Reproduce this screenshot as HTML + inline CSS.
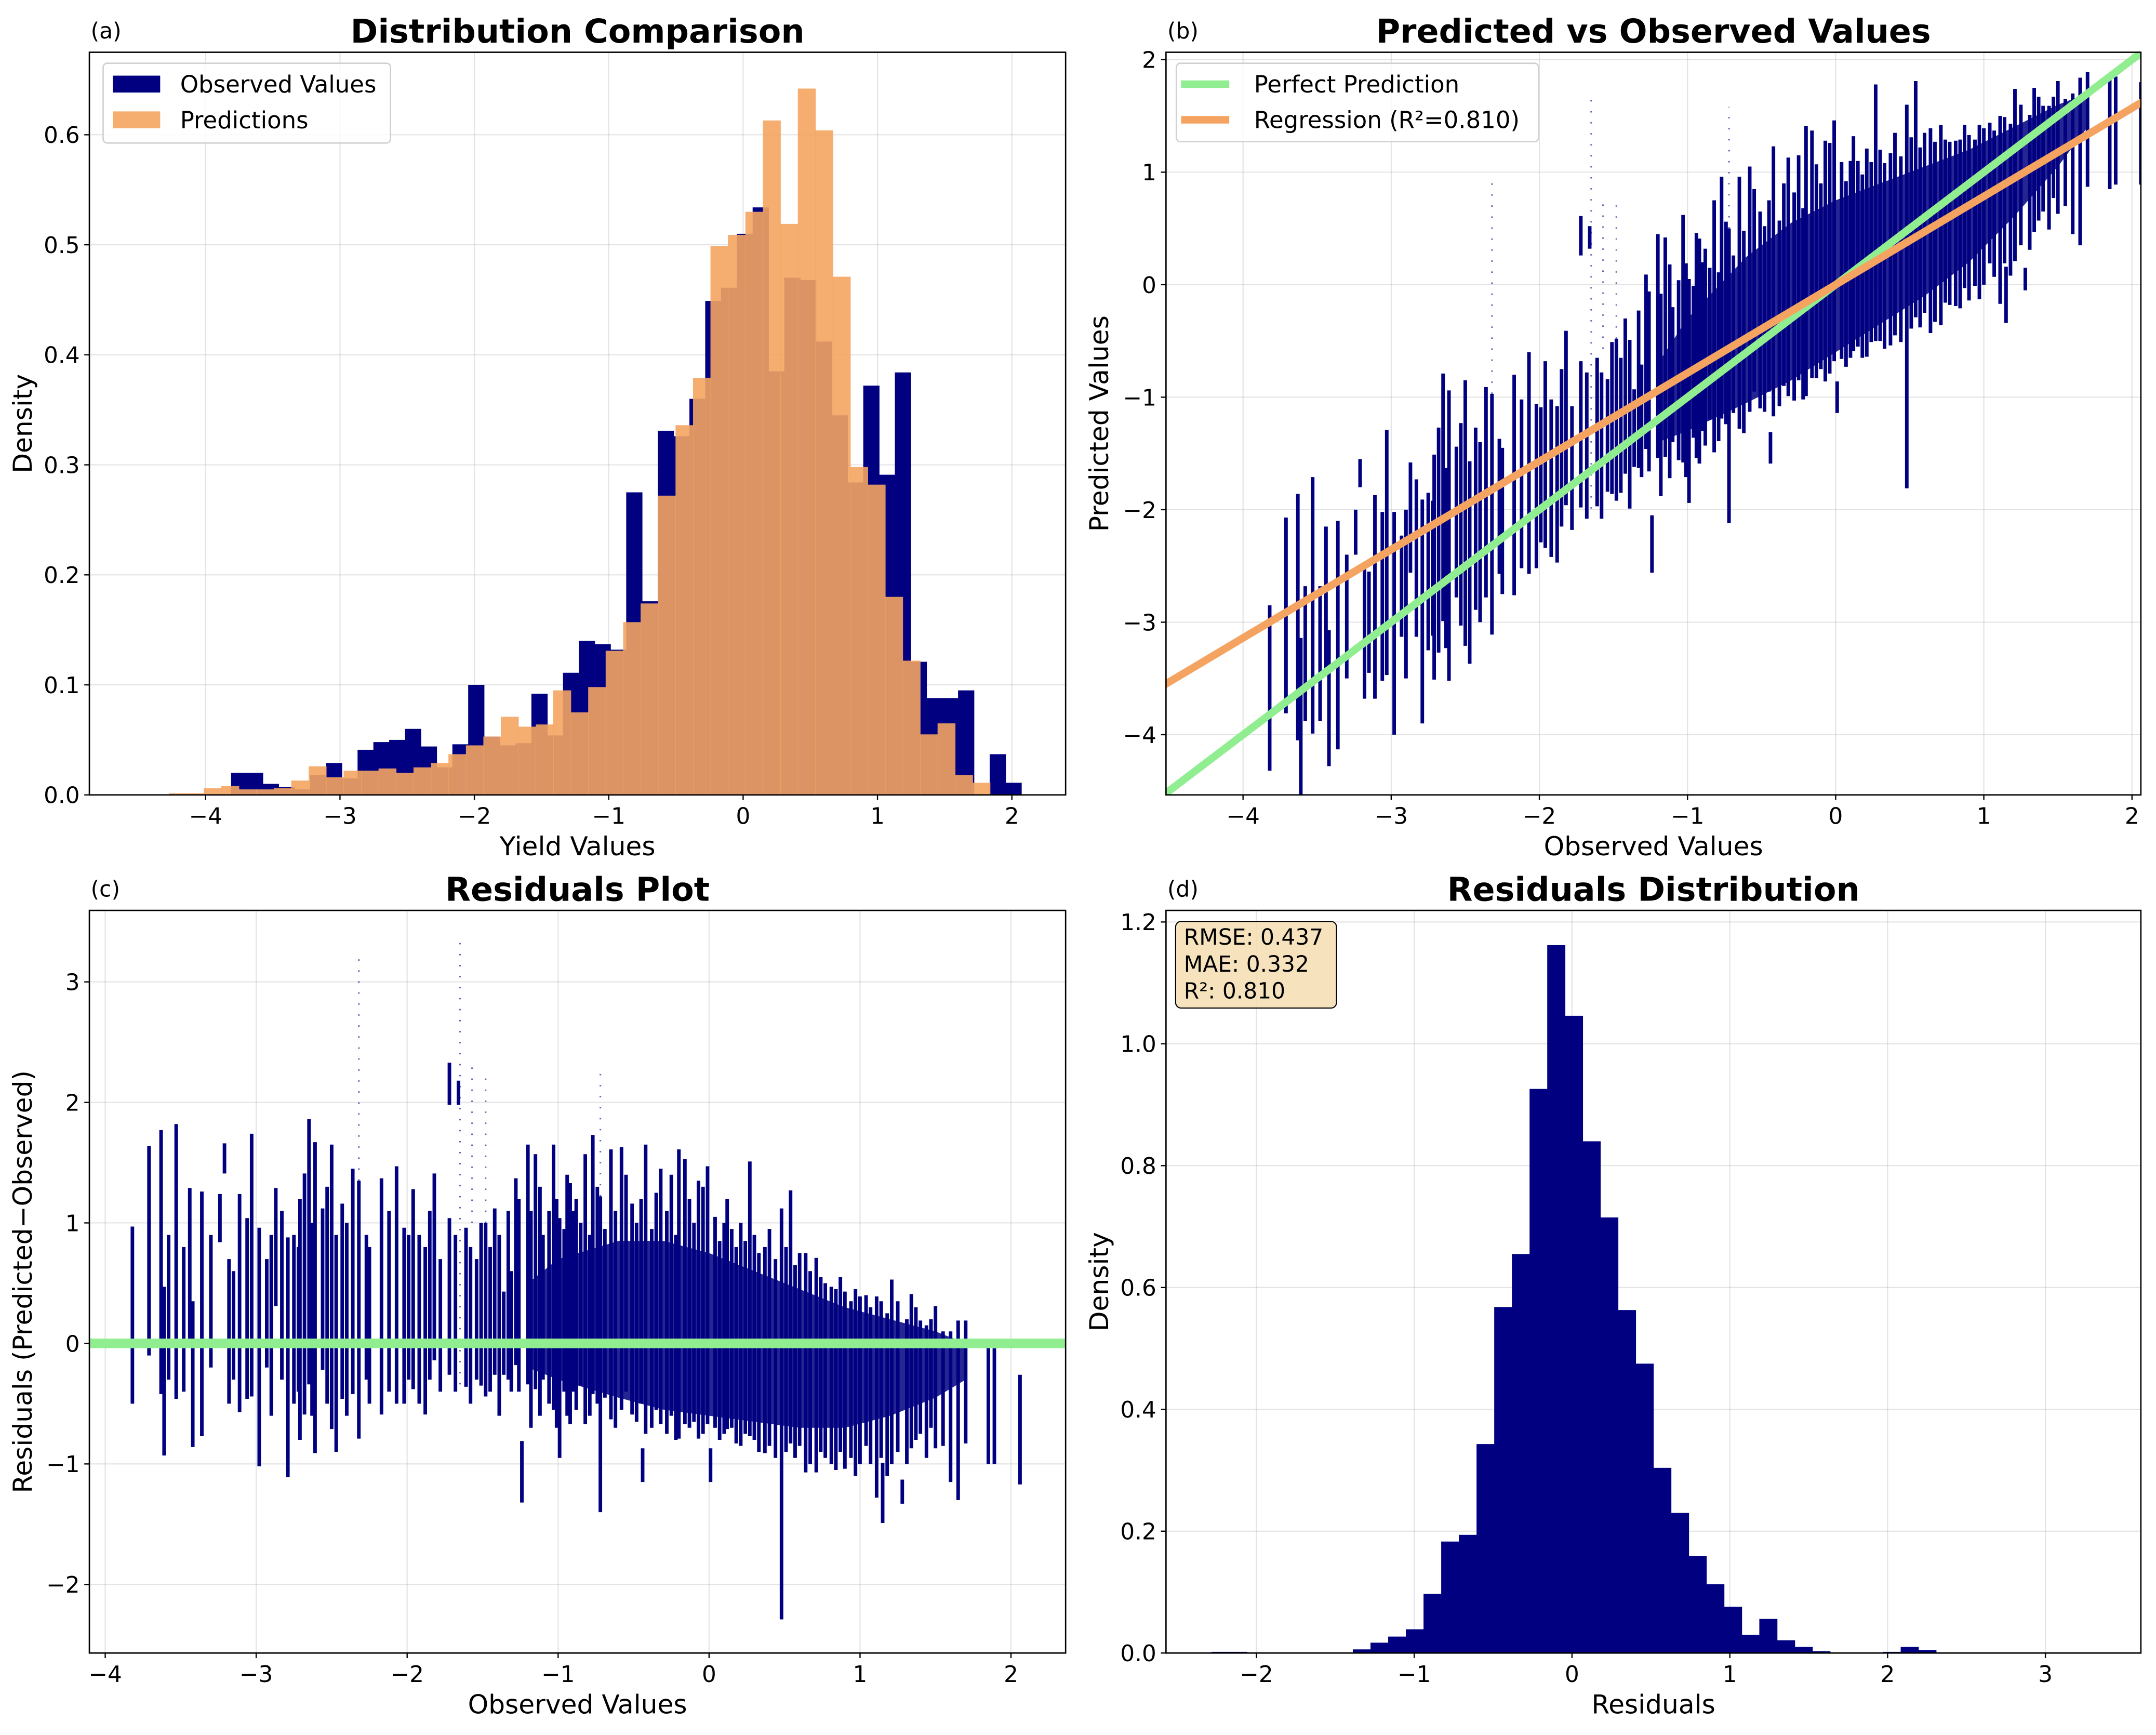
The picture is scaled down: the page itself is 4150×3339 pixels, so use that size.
<!DOCTYPE html>
<html><head><meta charset="utf-8"><style>
html,body{margin:0;padding:0;background:#fff;}
svg{display:block;font-family:"DejaVu Sans","Liberation Sans",sans-serif;}
</style></head><body>
<svg id="fig" xmlns="http://www.w3.org/2000/svg" width="4150" height="3339" viewBox="0 0 1568 1261.6" preserveAspectRatio="none">
<rect x="0" y="0" width="1568" height="1261.6" fill="#fff"/>
</svg>
<script>
// ---------- DATA ----------
const obsHistStart = -3.81, obsHistWidth = 0.1176;
const obsHist = [0.020,0.020,0.010,0.007,0.005,0.018,0.029,0.015,0.041,0.048,0.050,0.060,0.044,0.025,0.046,0.100,0.053,0.045,0.047,0.092,0.054,0.111,0.140,0.137,0.132,0.275,0.176,0.331,0.326,0.36,0.449,0.461,0.51,0.534,0.385,0.47,0.468,0.412,0.345,0.284,0.372,0.291,0.384,0.121,0.088,0.088,0.095,0.0,0.037,0.011];
const predHistStart = -4.273, predHistWidth = 0.130;
const predHist = [0.0015,0.0015,0.006,0.008,0.005,0.005,0.006,0.013,0.026,0.016,0.022,0.022,0.024,0.020,0.025,0.029,0.037,0.045,0.053,0.071,0.062,0.064,0.095,0.075,0.098,0.131,0.157,0.174,0.272,0.336,0.379,0.499,0.509,0.530,0.613,0.519,0.642,0.604,0.471,0.298,0.282,0.180,0.122,0.055,0.065,0.018,0.011];
const resHistStart = -2.285, resHistWidth = 0.112;
const resHist = [0.002,0.002,0,0,0,0,0,0,0.006,0.017,0.027,0.039,0.097,0.183,0.194,0.343,0.568,0.655,0.926,1.162,1.046,0.840,0.715,0.563,0.475,0.304,0.230,0.159,0.113,0.076,0.030,0.056,0.021,0.010,0.003,0,0,0,0.002,0.010,0.005];
const streaks = [[-3.82,-0.50,0.97],[-3.71,-0.10,1.64],[-3.63,-0.42,1.77],[-3.61,-0.93,0.47],[-3.53,-0.46,1.82],[-3.44,-0.02,1.29],[-3.42,-0.86,0.35],[-3.36,-0.77,1.26],[-3.24,0.84,1.24],[-3.21,1.41,1.66],[-3.11,-0.57,1.24],[-3.06,-0.46,1.04],[-3.03,-0.44,1.74],[-2.98,-1.02,0.96],[-2.87,0.31,1.29],[-2.79,-1.11,0.88],[-2.68,-0.59,1.41],[-2.65,-0.34,1.86],[-2.61,-0.91,1.67],[-2.56,-0.22,1.12],[-2.50,-0.71,1.65],[-2.43,-0.46,1.16],[-2.36,-0.42,1.45],[-2.32,-0.79,1.35],[-2.17,-0.59,1.37],[-2.07,-0.50,1.47],[-2.02,-0.50,0.96],[-1.96,-0.38,1.28],[-1.88,-0.59,0.80],[-1.82,-0.14,1.41],[-1.72,1.98,2.33],[-1.72,-0.26,1.04],[-1.66,1.98,2.18],[-1.61,-0.36,0.96],[-1.48,-0.44,1.00],[-1.42,-0.26,1.12],[-1.36,-0.26,0.43],[-1.28,-0.18,1.37],[-1.24,-1.32,-0.81],[-1.20,-0.34,1.65],[-1.15,-0.38,1.57],[-1.03,-0.55,1.65],[-0.99,-0.95,1.04],[-0.92,-0.67,1.33],[-0.82,-0.67,1.57],[-0.77,-0.42,1.73],[-0.72,-1.40,1.22],[-0.65,-0.63,1.61],[-0.58,-0.55,1.63],[-0.51,-0.59,1.16],[-0.44,-1.15,-0.87],[-0.42,-0.75,1.65],[-0.32,-0.67,1.45],[-0.20,-0.79,1.61],[-0.16,-0.67,1.53],[-0.07,-0.79,1.35],[-0.01,-0.67,1.47],[0.01,-1.15,-0.87],[0.12,-0.71,1.20],[0.18,-0.83,0.80],[0.27,-0.77,1.51],[0.37,-0.91,0.80],[0.48,-2.29,1.12],[0.54,-0.83,1.27],[0.64,-1.07,0.75],[0.71,-1.07,0.71],[0.81,-1.00,0.47],[0.90,-1.04,0.43],[1.00,-1.00,0.39],[1.11,-1.28,0.39],[1.15,-1.49,-0.99],[1.21,-1.00,0.53],[1.28,-1.33,-1.13],[1.34,-0.87,0.41],[1.40,-0.75,0.19],[1.50,-0.87,0.31],[1.60,-1.15,0.10],[1.65,-1.30,0.19],[1.70,-0.83,0.19],[1.85,-1.00,0.00],[1.89,-1.00,-0.04],[2.06,-1.17,-0.26],
[-1.10,-0.30,0.90],[-1.06,-0.50,1.10],[-0.96,-0.40,0.95],[-0.88,-0.55,1.20],[-0.85,-0.35,1.00],[-0.79,-0.60,0.90],[-0.74,-0.50,1.30],[-0.69,-0.45,0.95],[-0.62,-0.70,1.10],[-0.55,-0.40,1.40],[-0.48,-0.65,1.00],[-0.45,-0.50,1.20],[-0.38,-0.70,0.95],[-0.35,-0.55,1.25],[-0.28,-0.75,1.10],[-0.25,-0.60,1.40],[-0.22,-0.80,0.90],[-0.13,-0.70,1.20],[-0.10,-0.65,1.00],[-0.04,-0.75,1.30],[0.04,-0.70,1.05],[0.07,-0.80,0.85],[0.10,-0.75,1.00],[0.15,-0.70,0.95],[0.21,-0.85,1.00],[0.24,-0.75,0.85],[0.30,-0.80,0.90],[0.33,-0.90,0.75],[0.40,-0.85,0.95],[0.44,-0.95,0.70],[0.51,-0.90,0.80],[0.57,-0.95,0.65],[0.60,-0.85,0.75],[0.67,-1.00,0.60],[0.74,-0.90,0.55],[0.77,-0.95,0.50],[0.84,-1.05,0.45],[0.87,-0.90,0.55],[0.94,-0.95,0.35],[0.97,-1.10,0.45],[1.04,-0.85,0.40],[1.07,-1.00,0.30],[1.14,-0.95,0.35],[1.18,-1.10,0.25],[1.25,-0.90,0.35],[1.31,-1.00,0.20],[1.37,-0.80,0.30],[1.44,-0.95,0.15],[1.47,-0.70,0.20],[1.55,-0.85,0.10],[-2.27,-0.30,0.90],[-2.72,-0.40,0.80],[-2.93,-0.20,0.70],[-3.15,-0.30,0.60],[-1.54,-0.30,0.70],[-1.31,-0.40,0.60],
[-3.58,-0.30,0.90],[-3.48,-0.40,0.80],[-3.30,-0.20,0.90],[-3.18,-0.50,0.70],[-2.90,-0.60,0.90],[-2.83,-0.30,1.10],[-2.75,-0.50,0.90],[-2.71,-0.80,1.20],[-2.63,-0.60,1.00],[-2.53,-0.50,1.30],[-2.47,-0.90,0.90],[-2.40,-0.60,1.00],[-2.25,-0.50,0.80],[-2.12,-0.40,1.10],[-1.99,-0.30,0.90],[-1.92,-0.50,0.90],[-1.85,-0.30,1.10],[-1.78,-0.40,0.70],[-1.68,-0.40,0.90],[-1.58,-0.50,0.80],[-1.51,-0.35,1.00],[-1.45,-0.40,0.80],[-1.39,-0.60,0.90],[-1.33,-0.30,1.10],[-1.26,-0.40,1.20],[-1.18,-0.70,1.10],[-1.12,-0.60,1.30],[-1.01,-0.70,1.20],[-0.94,-0.60,1.40],[-0.90,-0.40,1.10]];
const sparseStreaks = [[-2.32,1.35,3.26],[-1.65,-0.34,3.33],[-1.57,1.0,2.32],[-1.48,1.0,2.20],[-0.72,1.22,2.30]];
// dense core envelope of residuals (observed, low, high)
const coreObs  = [-1.2,-1.0,-0.6,-0.3,0.0,0.3,0.6,0.9,1.2,1.5,1.7];
const coreLow  = [-0.2,-0.3,-0.45,-0.55,-0.6,-0.65,-0.7,-0.7,-0.6,-0.45,-0.3];
const coreHigh = [0.5,0.7,0.85,0.85,0.75,0.6,0.45,0.3,0.2,0.1,0.0];
const regSlope = 0.785, regIntercept = 0.0;
const ticksA_x = [-4,-3,-2,-1,0,1,2], ticksA_y = [0,0.1,0.2,0.3,0.4,0.5,0.6];
const ticksB = [-4,-3,-2,-1,0,1,2];
const ticksC_x = [-4,-3,-2,-1,0,1,2], ticksC_y = [-2,-1,0,1,2,3];
const ticksD_x = [-2,-1,0,1,2,3], ticksD_y = [0,0.2,0.4,0.6,0.8,1.0,1.2];

// ---------- DRAW ----------
const NS = "http://www.w3.org/2000/svg";
const svg = document.getElementById('fig');
function mk(tag, attrs, parent){ const e=document.createElementNS(NS,tag); for(const k in attrs) e.setAttribute(k,attrs[k]); (parent||svg).appendChild(e); return e; }
function fmt(v,dec){ const s=Math.abs(v).toFixed(dec); return (v<0?'\u2212':'')+s; }

function makeAxes(key, box, xlim, ylim){
  const g = mk('g',{});
  
  
  const sx = v => box.l + (v-xlim[0])/(xlim[1]-xlim[0])*(box.r-box.l);
  const sy = v => box.b - (v-ylim[0])/(ylim[1]-ylim[0])*(box.b-box.t);
  const clipId = 'clip-'+key;
  const cp = mk('clipPath',{id:clipId}, g);
  mk('rect',{x:box.l,y:box.t,width:box.r-box.l,height:box.b-box.t}, cp);
  const grid = mk('g',{}, g);
  
  
  const plot = mk('g',{'clip-path':'url(#'+clipId+')'}, g);
  
  
  return {g, grid, plot, sx, sy, box};
}
function finishAxes(ax, xt, xdec, yt, ydec, title, letter, xlabel, ylabel){
  const {g, grid, sx, sy, box} = ax;
  xt.forEach(v=>{
    const x=sx(v);
    const gl = mk('line',{x1:x,x2:x,y1:box.t,y2:box.b,stroke:'#b0b0b0','stroke-opacity':0.35,'stroke-width':0.8}, grid);
    
    
    mk('line',{x1:x,x2:x,y1:box.b,y2:box.b+3.7,stroke:'#000','stroke-width':0.9}, g);
    const t = mk('text',{x:x,y:box.b+21,'font-size':16.5,'text-anchor':'middle',fill:'#000'}, g);
    t.textContent = fmt(v,xdec);
    
    
  });
  yt.forEach(v=>{
    const y=sy(v);
    const gl = mk('line',{x1:box.l,x2:box.r,y1:y,y2:y,stroke:'#b0b0b0','stroke-opacity':0.35,'stroke-width':0.8}, grid);
    
    
    mk('line',{x1:box.l-3.7,x2:box.l,y1:y,y2:y,stroke:'#000','stroke-width':0.9}, g);
    const t = mk('text',{x:box.l-7,y:y+6,'font-size':16.5,'text-anchor':'end',fill:'#000'}, g);
    t.textContent = fmt(v,ydec);
    
    
  });
  const fr = mk('rect',{x:box.l,y:box.t,width:box.r-box.l,height:box.b-box.t,fill:'none',stroke:'#000','stroke-width':1}, g);
  
  
  const cx=(box.l+box.r)/2, cy=(box.t+box.b)/2;
  const tt = mk('text',{x:cx,y:box.t-7,'font-size':24,'font-weight':'bold','text-anchor':'middle',fill:'#000'}, g);
  tt.textContent = title;
  
  
  const pl = mk('text',{x:box.l+1,y:box.t-10,'font-size':16,fill:'#000'}, g);
  pl.textContent = letter;
  
  
  const xl = mk('text',{x:cx,y:box.b+44,'font-size':19,'text-anchor':'middle',fill:'#000'}, g);
  xl.textContent = xlabel;
  
  
  const yx = box.l-42;
  const yl = mk('text',{x:yx,y:cy,'font-size':19,'text-anchor':'middle',fill:'#000',transform:'rotate(-90 '+yx+' '+cy+')'}, g);
  yl.textContent = ylabel;
  
  
}
function bars(ax, start, width, vals, color, op, name){
  vals.forEach((v,i)=>{
    if(v<=0) return;
    const x0=ax.sx(start+i*width), x1=ax.sx(start+(i+1)*width), y=ax.sy(v), y0=ax.sy(0);
    const r = mk('rect',{x:x0,y:y,width:x1-x0+0.3,height:y0-y,fill:color,'fill-opacity':op}, ax.plot);
    
    
  });
}

// Panel A
const A = makeAxes('a',{l:65,r:775,t:38,b:578},[-4.865,2.40],[0,0.675]);
bars(A, obsHistStart, obsHistWidth, obsHist, '#000080', 1, 'observed-bar');
bars(A, predHistStart, predHistWidth, predHist, '#F4A460', 0.9, 'prediction-bar');
finishAxes(A, ticksA_x, 0, ticksA_y, 1, 'Distribution Comparison', '(a)', 'Yield Values', 'Density');
{
  const lg = mk('g',{}, A.g);
  
  
  mk('rect',{x:75,y:46,width:209,height:58,rx:3,fill:'#fff','fill-opacity':0.8,stroke:'#d0d0d0','stroke-width':1}, lg);
  const p1 = mk('rect',{x:82,y:55,width:34.5,height:12.3,fill:'#000080'}, lg);
  
  
  const t1 = mk('text',{x:131,y:67.3,'font-size':17,fill:'#000'}, lg); t1.textContent='Observed Values';
  
  
  const p2 = mk('rect',{x:82,y:81,width:34.5,height:12.3,fill:'#F4A460','fill-opacity':0.9}, lg);
  
  
  const t2 = mk('text',{x:131,y:93.3,'font-size':17,fill:'#000'}, lg); t2.textContent='Predictions';
  
  
}

function drawCore(ax, toY, name){
  const pts=[];
  coreObs.forEach((o,i)=>pts.push(ax.sx(o)+','+ax.sy(toY(o,coreHigh[i]))));
  for(let i=coreObs.length-1;i>=0;i--) pts.push(ax.sx(coreObs[i])+','+ax.sy(toY(coreObs[i],coreLow[i])));
  const p = mk('polygon',{points:pts.join(' '),fill:'#000080','fill-opacity':0.85}, ax.plot);
  
  
}
function drawStreaks(ax, toY, name){
  streaks.forEach(s=>{
    const x=ax.sx(s[0]);
    const a=ax.sy(toY(s[0],s[1])), b=ax.sy(toY(s[0],s[2]));
    const l = mk('line',{x1:x,x2:x,y1:a,y2:b,stroke:'#000080','stroke-width':2.6}, ax.plot);
    
    
  });
  sparseStreaks.forEach(s=>{
    const x=ax.sx(s[0]);
    const a=ax.sy(toY(s[0],s[1])), b=ax.sy(toY(s[0],s[2]));
    const l = mk('line',{x1:x,x2:x,y1:a,y2:b,stroke:'#000080','stroke-opacity':0.6,'stroke-width':1.2,'stroke-dasharray':'1 7'}, ax.plot);
    
    
  });
}

// Panel B
const B = makeAxes('b',{l:848,r:1557,t:38,b:578},[-4.52,2.06],[-4.535,2.066]);
drawCore(B, (o,r)=>o+r, 'prediction-core');
drawStreaks(B, (o,r)=>o+r, 'prediction-point');
{
  const lims=[-4.6,2.1];
  const pp = mk('line',{x1:B.sx(lims[0]),y1:B.sy(lims[0]),x2:B.sx(lims[1]),y2:B.sy(lims[1]),stroke:'#90EE90','stroke-width':5.5}, B.plot);
  
  
  const rg = mk('line',{x1:B.sx(lims[0]),y1:B.sy(regSlope*lims[0]+regIntercept),x2:B.sx(lims[1]),y2:B.sy(regSlope*lims[1]+regIntercept),stroke:'#F4A460','stroke-width':5.5}, B.plot);
  
  
}
finishAxes(B, ticksB, 0, ticksB, 0, 'Predicted vs Observed Values', '(b)', 'Observed Values', 'Predicted Values');
{
  const lg = mk('g',{}, B.g);
  
  
  mk('rect',{x:855.5,y:46,width:263.5,height:57,rx:3,fill:'#fff','fill-opacity':0.8,stroke:'#d0d0d0','stroke-width':1}, lg);
  const l1 = mk('line',{x1:859,x2:894,y1:61.2,y2:61.2,stroke:'#90EE90','stroke-width':5.5}, lg);
  
  
  const t1 = mk('text',{x:912,y:67.3,'font-size':17,fill:'#000'}, lg); t1.textContent='Perfect Prediction';
  
  
  const l2 = mk('line',{x1:859,x2:894,y1:87.1,y2:87.1,stroke:'#F4A460','stroke-width':5.5}, lg);
  
  
  const t2 = mk('text',{x:912,y:93.2,'font-size':17,fill:'#000'}, lg); t2.textContent='Regression (R\u00b2=0.810)';
  
  
}

// Panel C
const C = makeAxes('c',{l:65,r:775,t:662,b:1202},[-4.105,2.362],[-2.569,3.593]);
drawCore(C, (o,r)=>r, 'residual-core');
drawStreaks(C, (o,r)=>r, 'residual-point');
{
  const z = mk('line',{x1:C.box.l,x2:C.box.r,y1:C.sy(0),y2:C.sy(0),stroke:'#90EE90','stroke-width':7}, C.plot);
  
  
}
finishAxes(C, ticksC_x, 0, ticksC_y, 0, 'Residuals Plot', '(c)', 'Observed Values', 'Residuals (Predicted\u2212Observed)');

// Panel D
const D = makeAxes('d',{l:848,r:1557,t:662,b:1202},[-2.573,3.605],[0,1.219]);
bars(D, resHistStart, resHistWidth, resHist, '#000080', 1, 'residual-bar');
finishAxes(D, ticksD_x, 0, ticksD_y, 1, 'Residuals Distribution', '(d)', 'Residuals', 'Density');
{
  const sb = mk('g',{}, D.g);
  
  
  mk('rect',{x:855,y:670,width:117,height:63,rx:4,fill:'#F5DEB3','fill-opacity':0.85,stroke:'#000','stroke-width':0.8}, sb);
  ['RMSE: 0.437','MAE: 0.332','R\u00b2: 0.810'].forEach((s,i)=>{
    const t = mk('text',{x:861,y:687+i*19.5,'font-size':16,fill:'#000'}, sb);
    t.textContent = s;
    
    
  });
}
</script>
</body></html>
